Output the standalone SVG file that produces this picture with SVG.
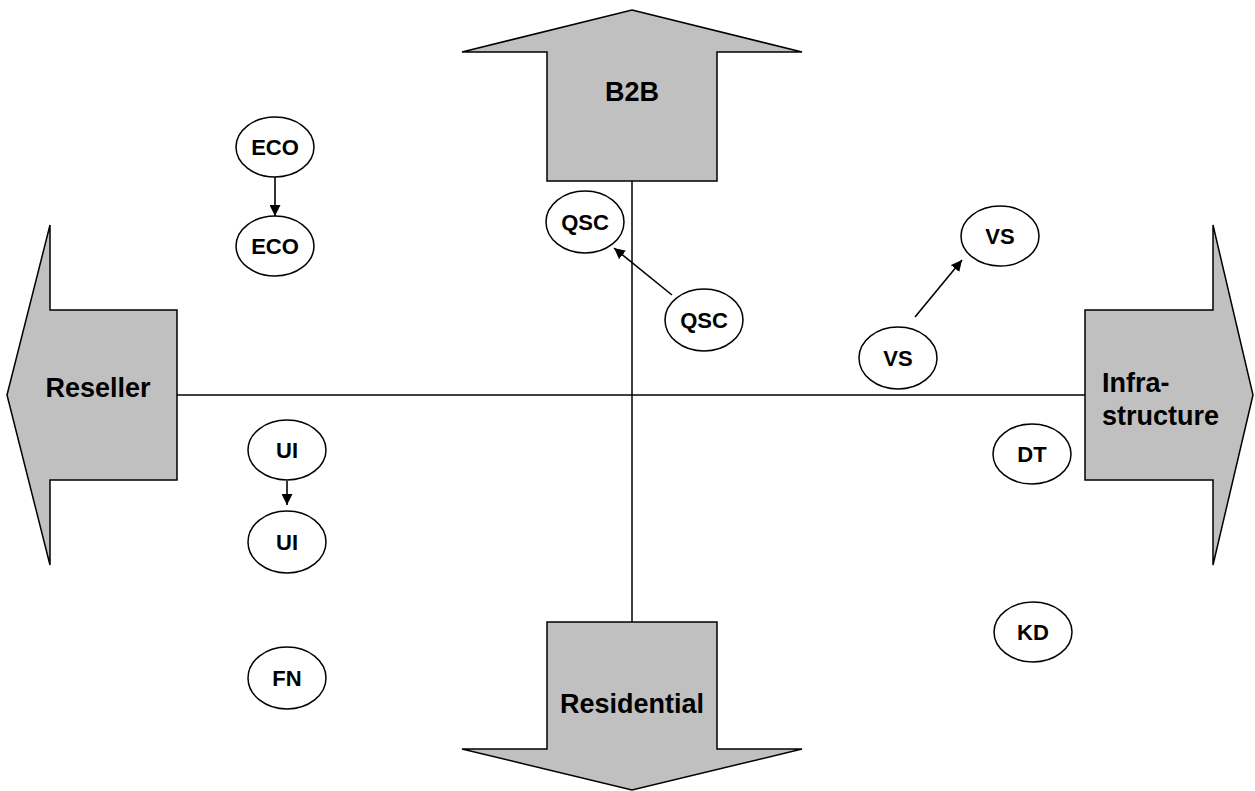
<svg xmlns="http://www.w3.org/2000/svg" width="1255" height="791" viewBox="0 0 1255 791">
<defs>
<style>
.big{fill:#C0C0C0;stroke:#000;stroke-width:1.5;stroke-linejoin:miter}
.node{fill:#fff;stroke:#000;stroke-width:1.5}
.lbl{font-family:"Liberation Sans",Arial,sans-serif;font-weight:bold;font-size:27px;fill:#000}
.nl{font-family:"Liberation Sans",Arial,sans-serif;font-weight:bold;font-size:22px;fill:#000;text-anchor:middle}
.ax{stroke:#000;stroke-width:1.5;fill:none}
.con{stroke:#000;stroke-width:1.6;fill:none;marker-end:url(#ah)}
</style>
<marker id="ah" viewBox="0 0 10 10" refX="10" refY="5" markerWidth="11" markerHeight="11" markerUnits="userSpaceOnUse" orient="auto">
<path d="M0,0 L10,5 L0,10 z" fill="#000"/>
</marker>
</defs>
<rect width="1255" height="791" fill="#fff"/>
<g id="axes">
<line class="ax" x1="177" y1="395" x2="1085" y2="395"/>
<line class="ax" x1="632" y1="181" x2="632" y2="622"/>
</g>
<g id="b2b">
<polygon class="big" points="632,10 802,52 717,52 717,181 547,181 547,52 462,52"/>
<text class="lbl" x="632" y="101" text-anchor="middle">B2B</text>
</g>
<g id="reseller">
<polygon class="big" points="7,395 50,225 50,310 177,310 177,480 50,480 50,565"/>
<text class="lbl" x="98" y="397" text-anchor="middle">Reseller</text>
</g>
<g id="infrastructure">
<polygon class="big" points="1253,395 1213,565 1213,480 1085,480 1085,310 1213,310 1213,225"/>
<text class="lbl" x="1102" y="392">Infra-</text>
<text class="lbl" x="1102" y="425">structure</text>
</g>
<g id="residential">
<polygon class="big" points="547,622 717,622 717,749 802,749 632,790 462,749 547,749"/>
<text class="lbl" x="632" y="713" text-anchor="middle">Residential</text>
</g>
<g id="eco1"><ellipse class="node" cx="275" cy="147" rx="39" ry="30"/><text class="nl" x="275" y="155">ECO</text></g>
<g id="eco2"><ellipse class="node" cx="275" cy="246" rx="39" ry="30"/><text class="nl" x="275" y="254">ECO</text></g>
<g id="qsc1"><ellipse class="node" cx="585" cy="222" rx="39" ry="31"/><text class="nl" x="585" y="230">QSC</text></g>
<g id="qsc2"><ellipse class="node" cx="704" cy="320" rx="39" ry="31"/><text class="nl" x="704" y="328">QSC</text></g>
<g id="vs1"><ellipse class="node" cx="1000" cy="236" rx="39" ry="30"/><text class="nl" x="1000" y="244">VS</text></g>
<g id="vs2"><ellipse class="node" cx="898" cy="358" rx="39" ry="31"/><text class="nl" x="898" y="366">VS</text></g>
<g id="ui1"><ellipse class="node" cx="287" cy="450" rx="39" ry="30"/><text class="nl" x="287" y="458">UI</text></g>
<g id="ui2"><ellipse class="node" cx="287" cy="542" rx="39" ry="31"/><text class="nl" x="287" y="550">UI</text></g>
<g id="fn"><ellipse class="node" cx="287" cy="678" rx="39" ry="31"/><text class="nl" x="287" y="686">FN</text></g>
<g id="dt"><ellipse class="node" cx="1032" cy="454" rx="39" ry="30"/><text class="nl" x="1032" y="462">DT</text></g>
<g id="kd"><ellipse class="node" cx="1033" cy="632" rx="39" ry="30"/><text class="nl" x="1033" y="640">KD</text></g>
<g id="connectors">
<line class="con" x1="275" y1="177" x2="275" y2="216"/>
<line class="con" x1="287" y1="481" x2="287" y2="505"/>
<line class="con" x1="672" y1="295" x2="614" y2="248"/>
<line class="con" x1="915" y1="317" x2="962" y2="260"/>
</g>
</svg>
